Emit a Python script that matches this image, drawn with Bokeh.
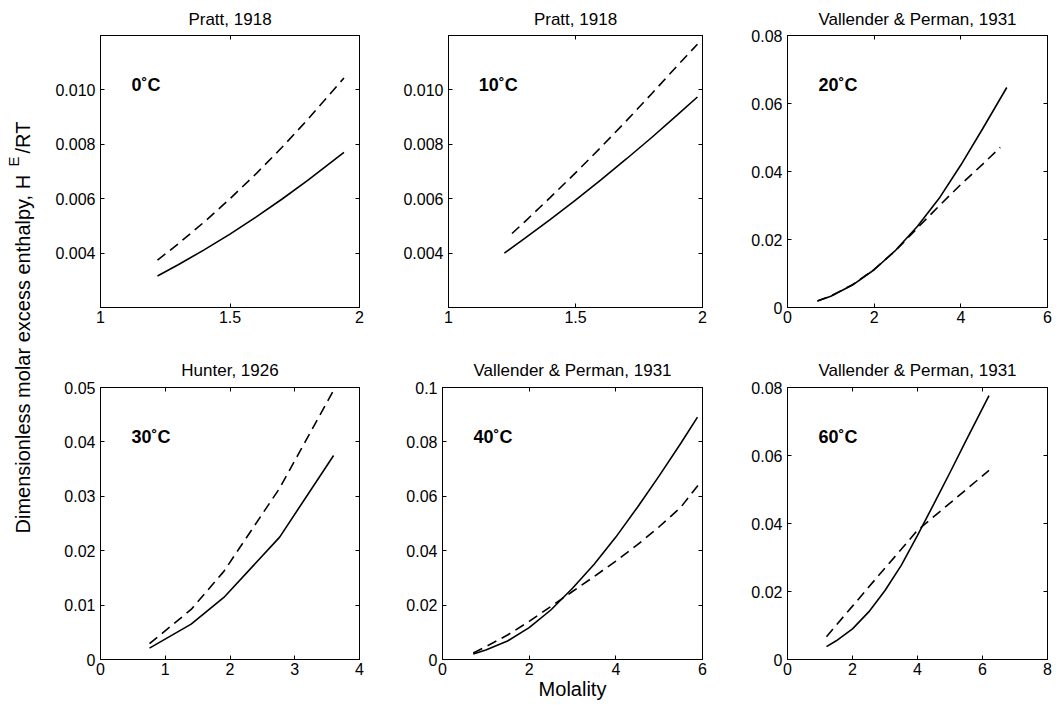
from bokeh.plotting import figure
from bokeh.models import Range1d, FixedTicker, LinearAxis, Label
from bokeh.layouts import row, column
from bokeh.embed import file_html
from bokeh.resources import INLINE

FONT = "Liberation Sans"

# ---------------- data ----------------
titles = ["Pratt, 1918", "Pratt, 1918", "Vallender & Perman, 1931",
          "Hunter, 1926", "Vallender & Perman, 1931", "Vallender & Perman, 1931"]
temps = ["0˚C", "10˚C", "20˚C", "30˚C", "40˚C", "60˚C"]

# 0 C
m0_solid = [1.22, 1.30, 1.40, 1.50, 1.60, 1.70, 1.80, 1.94]
h0_solid = [0.00316, 0.00357, 0.00412, 0.00470, 0.00532, 0.00598, 0.00667, 0.00770]
m0_dash = [1.22, 1.30, 1.40, 1.50, 1.60, 1.70, 1.80, 1.94]
h0_dash = [0.00374, 0.00434, 0.00514, 0.00600, 0.00691, 0.00788, 0.00891, 0.01044]

# 10 C
m10_solid = [1.22, 1.30, 1.40, 1.50, 1.60, 1.70, 1.80, 1.90, 1.98]
h10_solid = [0.00400, 0.00454, 0.00523, 0.00595, 0.00669, 0.00746, 0.00825, 0.00907, 0.00974]
m10_dash = [1.25, 1.30, 1.40, 1.50, 1.60, 1.70, 1.80, 1.90, 1.98]
h10_dash = [0.00472, 0.00515, 0.00604, 0.00695, 0.00789, 0.00886, 0.00986, 0.01088, 0.01168]

# 20 C
m20_solid = [0.69, 1.0, 1.5, 2.0, 2.5, 3.0, 3.5, 4.0, 4.5, 5.06]
h20_solid = [0.0019, 0.0033, 0.0066, 0.0111, 0.0169, 0.0239, 0.0321, 0.0419, 0.0525, 0.0647]
m20_dash = [0.69, 1.0, 1.5, 2.0, 2.5, 3.0, 3.5, 4.0, 4.5, 4.91]
h20_dash = [0.0019, 0.0034, 0.0067, 0.0112, 0.0168, 0.0234, 0.0299, 0.0362, 0.0421, 0.0471]

# 30 C
m30_solid = [0.757, 1.40, 1.905, 2.767, 3.60]
h30_solid = [0.0021, 0.0065, 0.0114, 0.0225, 0.0375]
m30_dash = [0.757, 1.40, 1.905, 2.767, 3.60]
h30_dash = [0.0029, 0.0092, 0.0162, 0.0315, 0.0495]

# 40 C
m40_solid = [0.71, 1.0, 1.5, 2.0, 2.5, 3.0, 3.5, 4.0, 4.5, 5.0, 5.5, 5.885]
h40_solid = [0.0020, 0.0035, 0.0068, 0.0117, 0.0182, 0.0262, 0.0350, 0.0450, 0.0560, 0.0675, 0.0795, 0.0891]
m40_dash = [0.71, 1.0, 1.5, 2.0, 2.5, 3.0, 3.5, 4.0, 4.5, 5.0, 5.5, 5.91]
h40_dash = [0.0024, 0.0047, 0.0090, 0.0140, 0.0195, 0.0250, 0.0305, 0.0362, 0.0422, 0.0488, 0.0560, 0.0643]

# 60 C
m60_solid = [1.2, 1.5, 2.0, 2.5, 3.0, 3.5, 4.0, 4.5, 5.0, 5.5, 6.2]
h60_solid = [0.0038, 0.0055, 0.0090, 0.0140, 0.0203, 0.0277, 0.0365, 0.0457, 0.0550, 0.0645, 0.0776]
m60_dash = [1.2, 1.5, 2.0, 2.5, 3.0, 3.5, 4.0, 4.5, 5.0, 5.5, 6.2]
h60_dash = [0.0067, 0.0101, 0.0157, 0.0213, 0.0269, 0.0324, 0.0380, 0.0420, 0.0460, 0.0500, 0.0556]

# axis ranges and ticks
x_ranges = [(1, 2), (1, 2), (0, 6), (0, 4), (0, 6), (0, 8)]
y_ranges = [(0.002, 0.012), (0.002, 0.012), (0, 0.08), (0, 0.05), (0, 0.1), (0, 0.08)]

x_ticks_a = [1, 1.5, 2]
x_labels_a = ["1", "1.5", "2"]
x_ticks_6 = [0, 2, 4, 6]
x_labels_6 = ["0", "2", "4", "6"]
x_ticks_4 = [0, 1, 2, 3, 4]
x_labels_4 = ["0", "1", "2", "3", "4"]
x_ticks_8 = [0, 2, 4, 6, 8]
x_labels_8 = ["0", "2", "4", "6", "8"]

y_ticks_a = [0.004, 0.006, 0.008, 0.010]
y_labels_a = ["0.004", "0.006", "0.008", "0.010"]
y_ticks_08 = [0, 0.02, 0.04, 0.06, 0.08]
y_labels_08 = ["0", "0.02", "0.04", "0.06", "0.08"]
y_ticks_05 = [0, 0.01, 0.02, 0.03, 0.04, 0.05]
y_labels_05 = ["0", "0.01", "0.02", "0.03", "0.04", "0.05"]
y_ticks_10 = [0, 0.02, 0.04, 0.06, 0.08, 0.1]
y_labels_10 = ["0", "0.02", "0.04", "0.06", "0.08", "0.1"]

solids = [(m0_solid, h0_solid), (m10_solid, h10_solid), (m20_solid, h20_solid),
          (m30_solid, h30_solid), (m40_solid, h40_solid), (m60_solid, h60_solid)]
dashes = [(m0_dash, h0_dash), (m10_dash, h10_dash), (m20_dash, h20_dash),
          (m30_dash, h30_dash), (m40_dash, h40_dash), (m60_dash, h60_dash)]
x_tick_sets = [(x_ticks_a, x_labels_a), (x_ticks_a, x_labels_a), (x_ticks_6, x_labels_6),
               (x_ticks_4, x_labels_4), (x_ticks_6, x_labels_6), (x_ticks_8, x_labels_8)]
y_tick_sets = [(y_ticks_a, y_labels_a), (y_ticks_a, y_labels_a), (y_ticks_08, y_labels_08),
               (y_ticks_05, y_labels_05), (y_ticks_10, y_labels_10), (y_ticks_08, y_labels_08)]

# ---------------- layout ----------------
YLAB_W = 48
COL_W = [352, 345, 311]
COL_L = [52, 42, 42]
COL_R = [41, 43, 9]
ROW_H = [347, 365]
ROW_T = [34, 40]
ROW_B = [40, 53]
TITLE_STANDOFF = [14, 16]

TICK_FS = "16px"
TITLE_FS = "17px"
LABEL_FS = "20px"


def style_axis(ax, ticks, labels, show_labels, standoff):
    ax.ticker = FixedTicker(ticks=ticks)
    ax.major_tick_in = 4
    ax.major_tick_out = 0
    ax.minor_tick_line_color = None
    ax.major_tick_line_color = "black"
    ax.axis_line_color = "black"
    ax.axis_line_width = 1
    if show_labels:
        ax.major_label_overrides = {t: s for t, s in zip(ticks, labels)}
        ax.major_label_text_font = FONT
        ax.major_label_text_font_size = TICK_FS
        ax.major_label_text_color = "black"
        ax.major_label_standoff = standoff
    else:
        ax.major_label_text_color = None
        ax.major_label_text_font_size = "0px"
        ax.major_label_standoff = 0


def make_panel(i):
    r, c = divmod(i, 3)
    xr, yr = x_ranges[i], y_ranges[i]
    p = figure(width=COL_W[c], height=ROW_H[r],
               x_range=Range1d(*xr), y_range=Range1d(*yr),
               output_backend="svg", toolbar_location=None,
               min_border_left=COL_L[c], min_border_right=COL_R[c],
               min_border_top=ROW_T[r], min_border_bottom=ROW_B[r])
    p.grid.visible = False
    p.outline_line_color = "black"
    p.outline_line_width = 1
    p.background_fill_color = "white"
    p.border_fill_color = "white"

    p.title.text = titles[i]
    p.title.align = "center"
    p.title.text_font = FONT
    p.title.text_font_size = TITLE_FS
    p.title.text_font_style = "normal"
    p.title.text_color = "black"
    p.title.standoff = TITLE_STANDOFF[r]

    xt, xl = x_tick_sets[i]
    yt, yl_ = y_tick_sets[i]
    bottom = p.below[0]
    left = p.left[0]
    style_axis(bottom, xt, xl, True, 3)
    style_axis(left, yt, yl_, True, 5)
    top = LinearAxis()
    style_axis(top, xt, xl, False, 0)
    p.add_layout(top, "above")
    right = LinearAxis()
    style_axis(right, yt, yl_, False, 0)
    p.add_layout(right, "right")

    ms, hs = solids[i]
    md, hd = dashes[i]
    p.line(ms, hs, line_color="black", line_width=1.6)
    p.line(md, hd, line_color="black", line_width=1.6, line_dash="10 6")

    lx = xr[0] + 31 / 260 * (xr[1] - xr[0])
    ly = yr[1] - 50 / 273 * (yr[1] - yr[0])
    p.add_layout(Label(x=lx, y=ly, text=temps[i], text_font=FONT,
                       text_font_size="18px", text_font_style="bold",
                       text_color="black", text_align="left",
                       text_baseline="alphabetic"))
    if i == 4:
        bottom.axis_label = "Molality"
        bottom.axis_label_text_font = FONT
        bottom.axis_label_text_font_size = LABEL_FS
        bottom.axis_label_text_font_style = "normal"
        bottom.axis_label_text_color = "black"
        bottom.axis_label_standoff = 0
    return p


panels = [make_panel(i) for i in range(6)]

# y-axis label column (data units == pixels)
H_TOTAL = ROW_H[0] + ROW_H[1]
yl = figure(width=YLAB_W, height=H_TOTAL, x_range=Range1d(0, YLAB_W), y_range=Range1d(0, H_TOTAL),
            output_backend="svg", toolbar_location=None,
            x_axis_type=None, y_axis_type=None, min_border=0)
yl.grid.visible = False
yl.outline_line_color = None
main_text = "Dimensionless molar excess enthalpy, H"
yl.add_layout(Label(x=22, y=179, text=main_text, angle=90, angle_units="deg",
                    text_font=FONT, text_font_size=LABEL_FS, text_color="black",
                    text_align="left", text_baseline="alphabetic"))
yl.add_layout(Label(x=13, y=546, text="E", angle=90, angle_units="deg",
                    text_font=FONT, text_font_size="15px", text_color="black",
                    text_align="left", text_baseline="alphabetic"))
yl.add_layout(Label(x=22, y=559, text="/RT", angle=90, angle_units="deg",
                    text_font=FONT, text_font_size=LABEL_FS, text_color="black",
                    text_align="left", text_baseline="alphabetic"))

grid = column(row(*panels[:3]), row(*panels[3:]))
layout = row(yl, grid)

open("out.html", "w").write(file_html(layout, INLINE))
